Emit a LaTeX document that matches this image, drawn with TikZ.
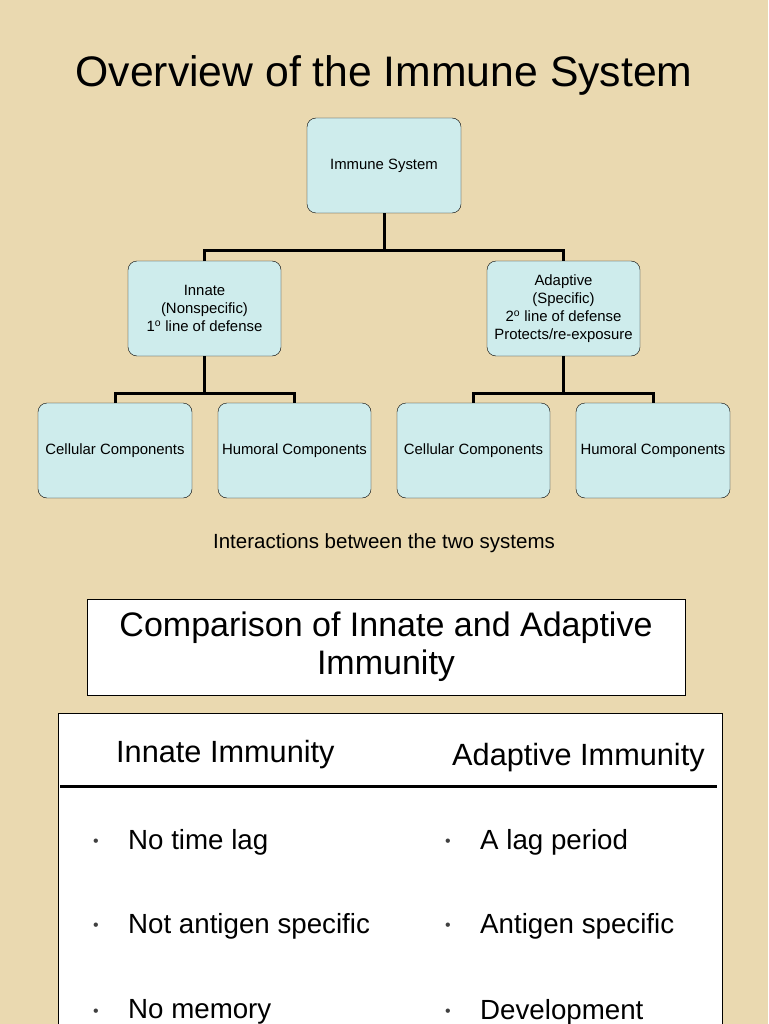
\documentclass[tikz,border=0pt]{standalone}
\usepackage{fontspec}
\setmainfont{Liberation Sans}
\definecolor{parch}{RGB}{234,217,176}
\definecolor{boxfill}{RGB}{206,236,236}
\begin{document}
\begin{tikzpicture}[x=1pt,y=-1pt,
  box/.style={draw=black,fill=boxfill,rounded corners=9pt,minimum width=154pt,minimum height=95pt,align=center,font=\fontsize{14.9}{18}\selectfont,inner sep=2pt},
  conn/.style={line width=3pt},
  big/.style={font=\fontsize{27.7}{32}\selectfont,anchor=west,inner sep=0pt},
  head/.style={font=\fontsize{30.7}{34}\selectfont,anchor=west,inner sep=0pt},
  dot/.style={font=\fontsize{16}{16}\selectfont,text=black!75}]
\fill[parch] (0,0) rectangle (768,1024);
\useasboundingbox (0,0) rectangle (768,1024);
\node (title) at (384,75) {\fontsize{42.7}{48}\selectfont Overview of the Immune System};
\node[box] (imm) at (384,165.5) {Immune System};
\node[box,minimum width=153pt] (inn) at (204.5,308.5) {Innate\\(Nonspecific)\\1\textsuperscript{o} line of defense};
\node[box,minimum width=153pt] (ada) at (563.5,308.5) {Adaptive\\(Specific)\\2\textsuperscript{o} line of defense\\Protects/re-exposure};
\node[box] (c1) at (115,450.5) {Cellular Components};
\node[box,minimum width=153pt] (h1) at (294.5,450.5) {Humoral Components};
\node[box,minimum width=153pt] (c2) at (473.5,450.5) {Cellular Components};
\node[box] (h2) at (653,450.5) {Humoral Components};
\draw[conn] (imm.south) -- ++(0,37) -| (inn.north);
\draw[conn] (imm.south) -- ++(0,37) -| (ada.north);
\draw[conn] (inn.south) -- ++(0,37) -| (c1.north);
\draw[conn] (inn.south) -- ++(0,37) -| (h1.north);
\draw[conn] (ada.south) -- ++(0,37) -| (c2.north);
\draw[conn] (ada.south) -- ++(0,37) -| (h2.north);
\node[font=\fontsize{20.5}{24}\selectfont] (inter) at (384,543) {Interactions between the two systems};
\node[draw=black,fill=white,minimum width=598pt,minimum height=96pt,align=center,font=\fontsize{34}{41}\selectfont] (cmp) at (386,647) {\raisebox{-3pt}{Comparison of Innate and Adaptive}\\Immunity};
\fill[white,draw=black] (58,713) rectangle (722,1030);
\draw[line width=3pt] (60,786) -- (717,786);
\node[head] (hi) at (116,755) {Innate Immunity};
\node[head] (ha) at (452,758) {Adaptive Immunity};
\foreach \y/\a/\b [count=\i] in {842/No time lag/A lag period,926/Not antigen specific/Antigen specific,1012/No memory/Development}{
  \node[dot] (bl\i) at (96,\y+1) {\textbullet};
  \node[dot] (br\i) at (448,\y+1) {\textbullet};
  \node[big] (tl\i) at (128,\y) {\a};
  \node[big] (tr\i) at (480,\y) {\b};
}
\end{tikzpicture}
\end{document}
